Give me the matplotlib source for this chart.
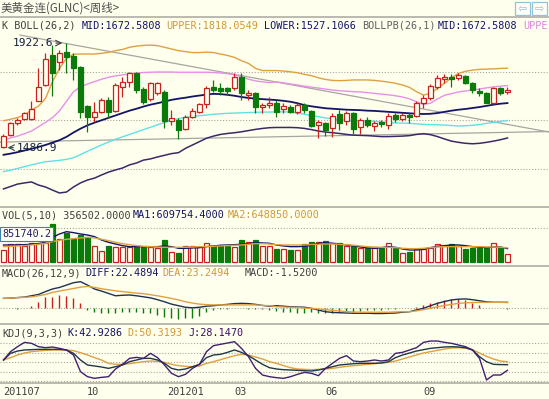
import matplotlib
matplotlib.use('Agg')
import matplotlib.pyplot as plt
from matplotlib.lines import Line2D
from matplotlib.patches import Rectangle
import numpy as np

# ---------------- data ----------------
opens = [1491,1540,1591,1605,1606,1683,1748,1873,1842,1887,1869,1824,1660,1613,1637,1685,1639,1741,1762,1796,
         1730,1688,1713,1720,1599,1602,1564,1613,1637,1669,1741,1737,1734,1734,1783,1706,1716,1658,1664,1674,
         1646,1657,1637,1664,1641,1581,1588,1567,1625,1599,1633,1571,1602,1577,1595,1581,1623,1605,1623,1619,
         1674,1692,1738,1771,1780,1776,1785,1758,1724,1716,1674,1734,1719]
highs = [1544,1595,1609,1637,1683,1817,1882,1914,1894,1922.6,1880,1827,1665,1678,1692,1699,1755,1783,1803,1803,
         1738,1762,1762,1727,1644,1609,1623,1650,1674,1744,1769,1755,1741,1797,1797,1727,1720,1671,1699,1685,
         1674,1664,1671,1671,1644,1602,1595,1630,1644,1641,1637,1609,1613,1599,1602,1630,1630,1630,1630,1683,
         1706,1751,1790,1794,1794,1799,1790,1762,1734,1720,1738,1741,1738]
lows = [1486.9,1535,1581,1600,1600,1680,1745,1702,1810,1796,1769,1609,1553,1595,1630,1609,1636,1699,1738,1713,
        1669,1683,1706,1567,1581,1521,1560,1609,1630,1651,1720,1706,1706,1727,1685,1685,1633,1630,1651,1616,
        1630,1633,1627,1630,1571,1526,1535,1530,1560,1581,1544,1544,1571,1558,1571,1563,1595,1599,1591,1613,
        1651,1685,1730,1755,1741,1769,1752,1716,1702,1671,1669,1706,1710]
closes = [1535,1588,1602,1630,1649,1741,1855,1799,1883,1863,1817,1637,1613,1637,1685,1637,1748,1762,1796,1727,
          1678,1755,1755,1599,1609,1560,1613,1640,1669,1734,1727,1724,1722,1783,1713,1716,1658,1664,1674,1637,
          1660,1637,1664,1644,1577,1595,1560,1619,1588,1633,1563,1602,1581,1588,1585,1619,1605,1623,1613,1671,
          1692,1744,1778,1782,1774,1790,1758,1727,1713,1674,1734,1716,1729]

boll_upper = [1599,1605,1612,1623,1644,1660,1692,1762,1817,1859,1876,1877,1877,1877,1880,1884,1891,1896,1905,1910,
              1913,1914,1912,1905,1898,1891,1887,1883,1883,1885,1883,1877,1871,1863,1849,1838,1817,1808,1808,1808,
              1806,1803,1799,1792,1787,1778,1771,1767,1766,1767,1769,1769,1769,1767,1764,1760,1755,1748,1738,1720,
              1706,1713,1734,1755,1778,1796,1805,1810,1813,1814,1815,1817,1818.05]
boll_mid = [1457,1462,1468,1475,1482,1490,1498,1508,1518,1532,1550,1566,1580,1591,1601,1611,1621,1631,1641,1649,
            1658,1666,1672,1679,1686,1691,1695,1700,1704,1708,1711,1710,1707,1703,1698,1694,1691,1689,1687,1685,
            1682,1678,1672,1664,1659,1655,1651,1649,1647,1645,1644,1643,1641,1640,1638,1636,1634,1632,1630,1628,
            1627,1628,1631,1636,1641,1645,1648,1652,1656,1661,1666,1670,1672.58]
boll_lower = [1315,1325,1335,1340,1344,1331,1323,1310,1298,1302,1323,1340,1352,1360,1373,1385,1394,1402,1415,1423,
              1435,1440,1448,1455,1462,1466,1484,1498,1512,1526,1535,1542,1546,1549,1553,1558,1563,1567,1570,1571,
              1571,1571,1570,1567,1562,1556,1552,1549,1546,1542,1539,1538,1537,1535,1533,1533,1534,1535,1537,1542,
              1545,1541,1533,1523,1514,1509,1505,1503,1505,1509,1514,1520,1527.11]
pb_upper = [1519,1527,1535,1545,1556,1574,1592,1612,1640,1680,1720,1740,1752,1762,1772,1780,1786,1790,1794,1797,
            1800,1801,1802,1802,1802,1801,1801,1801,1801,1801,1800,1798,1795,1790,1782,1772,1765,1761,1758,1761,
            1757,1752,1748,1743,1739,1735,1731,1727,1724,1722,1720,1719,1716,1713,1710,1707,1703,1698,1690,1678,
            1667,1672,1690,1705,1712,1719,1723,1727,1731,1736,1740,1743,1745.3]
pb_lower = [1387,1393,1400,1408,1415,1422,1428,1431,1434,1438,1445,1458,1472,1485,1498,1510,1522,1532,1542,1552,
            1562,1572,1582,1592,1600,1608,1613,1617,1620,1623,1626,1628,1630,1631,1632,1633,1634,1635,1635,1636,
            1636,1635,1630,1626,1621,1616,1611,1607,1604,1601,1599,1599,1598,1597,1594,1592,1590,1589,1588,1586,
            1584,1583,1582,1581,1579,1577,1578,1580,1583,1588,1592,1596,1599.8]

# trend lines drawn on the chart: (index, price) end points
trend_a_x = [2.36, 77.93]
trend_a_y = [1956, 1552]
trend_b_x = [-0.5, 77.93]
trend_b_y = [1510, 1554]

volumes = [549e3,803e3,803e3,727e3,847e3,874e3,847e3,1708e3,1026e3,1293e3,1026e3,1218e3,1142e3,727e3,517e3,727e3,
           696e3,696e3,696e3,727e3,696e3,696e3,624e3,995e3,473e3,428e3,727e3,727e3,669e3,874e3,727e3,772e3,727e3,
           696e3,995e3,892e3,995e3,727e3,727e3,580e3,593e3,549e3,549e3,803e3,919e3,919e3,950e3,874e3,847e3,727e3,
           727e3,651e3,624e3,624e3,624e3,847e3,624e3,401e3,473e3,580e3,580e3,651e3,803e3,740e3,803e3,727e3,580e3,
           624e3,624e3,624e3,874e3,651e3,356502]
vol_ma1 = [772e3,772e3,772e3,787e3,803e3,832e3,891e3,1114e3,1263e3,1366e3,1322e3,1263e3,1218e3,1144e3,995e3,891e3,
           817e3,743e3,698e3,698e3,698e3,698e3,698e3,728e3,698e3,624e3,624e3,639e3,654e3,698e3,728e3,758e3,772e3,
           787e3,803e3,832e3,877e3,862e3,847e3,772e3,728e3,698e3,698e3,713e3,758e3,847e3,877e3,847e3,817e3,772e3,
           728e3,683e3,639e3,624e3,654e3,698e3,669e3,594e3,550e3,550e3,580e3,654e3,713e3,743e3,772e3,772e3,743e3,
           698e3,669e3,654e3,683e3,683e3,609754.4]
vol_ma2 = [698e3,713e3,728e3,743e3,772e3,803e3,847e3,921e3,981e3,1025e3,1055e3,1085e3,1114e3,1085e3,1025e3,966e3,
           891e3,832e3,787e3,743e3,713e3,698e3,683e3,669e3,669e3,669e3,669e3,683e3,698e3,698e3,713e3,728e3,743e3,
           758e3,772e3,803e3,832e3,832e3,817e3,787e3,772e3,772e3,772e3,772e3,787e3,803e3,817e3,817e3,803e3,787e3,
           758e3,728e3,698e3,683e3,669e3,669e3,654e3,624e3,609e3,609e3,624e3,654e3,683e3,698e3,698e3,698e3,698e3,
           698e3,698e3,683e3,683e3,669e3,648850]

macd_diff = [38,39,41,43,48,53,64,74,80,89,98,102,89,74,66,57,48,50,51,48,
             44,40,33,25,16,10,4,2,4,8,10,13,15,18,19,18,15,11,8,10,
             8,6,5,4,0,-7,-13,-16,-17,-18,-19,-19,-19,-20,-20,-19,-18,-15,-13,-6,
             0,10,19,26,32,35,36,33,29,25,23,23,22.49]
macd_dea = [38,39,41,42,44,48,53,61,66,71,76,81,84,80,75,71,67,64,61,58,
            56,52,48,43,38,32,25,20,16,14,13,13,13,13,13,13,13,11,10,6,
            5,4,3,1,0,-3,-5,-8,-10,-13,-14,-15,-15,-15,-15,-15,-14,-13,-13,-10,
            -5,0,6,11,15,19,21,22,23,23,23,23,23.25]
macd_hist = [0,0,-1,3,8,26,42,45,51,48,38,19,-6,-15,-19,-19,-19,-13,-13,-15,
             -17,-19,-26,-32,-36,-41,-38,-36,-28,-13,-6,-3,-1,0,0,-1,-3,-4,-5,-10,
             -13,-15,-17,-17,-15,-17,-19,-17,-15,-13,-13,-10,-8,-6,-5,-4,-3,0,3,6,
             13,19,24,31,34,34,31,21,11,1,1,0,-1.52]

kdj_k = [55.3,72.8,78.9,81.6,82.5,83.3,83.3,83.3,83.3,81.6,72.8,55.3,42.1,39.5,36.9,33.3,37.7,42.1,50.9,55.3,
         59.6,59.6,55.3,46.5,33.3,29,31.6,37.7,43.9,61.5,68.4,70.2,75.4,81.6,75.4,66.7,55.3,43.9,35.1,31.6,
         29.8,29,28.1,27.2,26.3,29,33.3,37.7,42.1,43.9,45.6,46.5,46.5,46.5,47.4,50.9,61.5,68.4,73.7,78.9,
         82.5,85.9,87.7,89.5,90.3,89.5,87.7,81.6,64,50.9,43.9,43.2,42.93]
kdj_d = [55.3,61.5,68.4,73.7,77.2,79,80.7,81.6,81.6,81.6,79.8,74.5,68.4,61.5,55.3,46.5,43.9,43.9,45.6,48.3,
         50.9,52.6,51.8,49.1,43.9,40.4,38.6,37.7,39.5,46.5,50.9,56.1,61.5,66.7,70.2,68.4,63.2,57.9,50.9,46.5,
         40.4,35.1,31.6,30.7,29.8,30.7,31.6,33.3,36,38.6,40.4,42.1,43.9,45.6,47.4,49.1,52.6,57.9,63.2,68.4,
         73.7,77.2,80.7,84.2,86.8,87.7,86,82.5,73.7,64.9,57.9,52.6,50.32]
kdj_j = [55.3,77.2,90.3,101.7,99.1,90.3,87.7,89.4,85.9,81.6,68.4,24.6,11.4,7,9.6,11.4,31.6,43.9,59.6,62.2,
         59.6,72.8,61.5,42.1,20.2,11.4,17.6,33.3,43.9,77.2,93,96.5,100,103.5,85.9,64,33.3,15.8,11.4,8.8,
         7,11.4,17.6,22.8,20.2,14.1,33.3,46.5,59.6,66.7,52.6,50.9,52.6,55.3,52.6,55.3,72.8,75.4,81.6,87.7,
         101.7,105.2,105.2,101.7,99.1,94.7,90.3,81.6,59.6,2.7,15.8,15.8,28.15]

xtick_pos = [0.0, 12.8, 26.0, 33.8, 46.9, 60.9]
xtick_labels = ['201107', '10', '201201', '03', '06', '09']

# ---------------- figure ----------------
W, H = 549, 399
BG = '#FFFFEE'
RED = '#CC2020'
GRN = '#0A7A0A'
NAVY = '#141466'
ORANGE = '#E0A040'
PINK = '#E890E8'
CYAN = '#60E0E8'
PURPLE = '#3C2868'
GREY = '#A6A6A0'
MONO = 'DejaVu Sans Mono'

fig = plt.figure(figsize=(W / 100, H / 100), dpi=100)
fig.patch.set_facecolor(BG)
X0, X1 = -0.5, 77.93


def add_ax(top, bottom):
    ax = fig.add_axes([0, 1 - bottom / H, 1, (bottom - top) / H])
    ax.set_facecolor(BG)
    ax.set_xlim(X0, X1)
    for s in ax.spines.values():
        s.set_visible(False)
    ax.set_xticks([])
    ax.set_yticks([])
    return ax


def dotted(ax, v):
    ax.axhline(v, color='#A8A8A0', lw=0.8, ls=(0, (1, 1.6)), zorder=1)


n = len(closes)
idx = np.arange(n)
o = np.array(opens, float); c = np.array(closes, float)
up = c >= o
ecol = [RED if u else GRN for u in up]
fcol = [BG if u else GRN for u in up]

# ---- price panel ----
axp = add_ax(16.5, 207)
axp.set_ylim(1239.6, 2033.3)
for v in (1800, 1600, 1400):
    dotted(axp, v)
axp.plot(trend_a_x, trend_a_y, color=GREY, lw=0.9, zorder=1)
axp.plot(trend_b_x, trend_b_y, color=GREY, lw=0.9, zorder=1)
axp.plot(idx, boll_upper, color=ORANGE, lw=1.0, zorder=2)
axp.plot(idx, pb_upper, color=PINK, lw=1.0, zorder=2)
axp.plot(idx, boll_mid, color=NAVY, lw=1.3, zorder=2)
axp.plot(idx, pb_lower, color=CYAN, lw=1.0, zorder=2)
axp.plot(idx, boll_lower, color=PURPLE, lw=1.1, zorder=2)
axp.vlines(idx, lows, highs, colors=ecol, lw=0.9, zorder=3)
h = c - o
h = np.where(np.abs(h) < 1.5, np.where(h >= 0, 1.5, -1.5), h)
axp.bar(idx, h, bottom=o, width=0.72, color=fcol, edgecolor=ecol, lw=0.9, zorder=4)
imax = int(np.argmax(highs)); imin = int(np.argmin(lows))
axp.annotate('', xy=(imax - 0.2, highs[imax]), xytext=(imax - 1.9, highs[imax]),
             arrowprops=dict(arrowstyle='->', color='#404040', lw=0.8), zorder=5)
axp.text(imax - 1.95, highs[imax], f'{highs[imax]:.1f}', ha='right', va='center',
         family=MONO, fontsize=8, color='#102040', zorder=5)
axp.annotate('', xy=(imin + 0.2, lows[imin]), xytext=(imin + 1.8, lows[imin]),
             arrowprops=dict(arrowstyle='->', color='#404040', lw=0.8), zorder=5)
axp.text(imin + 1.85, lows[imin], f'{lows[imin]:.1f}', ha='left', va='center',
         family=MONO, fontsize=8, color='#102040', zorder=5)

# ---- volume panel ----
axv = add_ax(207, 265.7)
axv.set_ylim(-152e3, 2.466e6)
dotted(axv, 1.543e6)
axv.bar(idx, volumes, width=0.72, color=fcol, edgecolor=ecol, lw=0.9, zorder=3)
axv.plot(idx, vol_ma1, color=NAVY, lw=1.0, zorder=4)
axv.plot(idx, vol_ma2, color=ORANGE, lw=1.0, zorder=4)

# ---- MACD panel ----
axm = add_ax(265.7, 323.5)
axm.set_ylim(-58.2, 163.2)
dotted(axm, 0)
hist = np.array(macd_hist)
axm.vlines(idx, 0, hist, colors=[RED if v >= 0 else GRN for v in hist], lw=1.0, zorder=2)
axm.plot(idx, macd_diff, color='#203050', lw=1.0, zorder=3)
axm.plot(idx, macd_dea, color=ORANGE, lw=1.0, zorder=3)

# ---- KDJ panel ----
axk = add_ax(323.5, 382.5)
axk.set_ylim(-3.9, 151.3)
for v in (0, 25, 50, 75, 100):
    dotted(axk, v)
axk.plot(idx, kdj_d, color=ORANGE, lw=1.0, zorder=2)
axk.plot(idx, kdj_k, color='#203848', lw=1.0, zorder=3)
axk.plot(idx, kdj_j, color='#402070', lw=1.0, zorder=3)

# ---- x labels ----
axx = add_ax(382.5, 399)
axx.set_ylim(0, 1)
for p, lab in zip(xtick_pos, xtick_labels):
    ha = 'left' if p == xtick_pos[0] else 'center'
    axx.text(p, 0.45, lab, ha=ha, va='center', family=MONO, fontsize=7.4, color='#404040')

# ---- separators ----
for y in (16.5, 207, 265.7, 323.5, 382.5):
    fig.add_artist(Line2D([0, 1], [1 - y / H, 1 - y / H], color='#B4B4AC', lw=1.3))


def ftext(x, y, s, color, **kw):
    fig.text(x / W, 1 - y / H, s, color=color, va='center', ha='left', family=MONO,
             fontsize=7.3, **kw)


# title
fig.text(1 / W, 1 - 8 / H, '美黄金连(GLNC)<周线>', family=['Noto Sans CJK SC', 'DejaVu Sans'],
         fontsize=8.3, color='#505050', va='center', ha='left')
# arrow buttons
for bx, glyph in ((515, '⇦'), (532, '⇨')):
    fig.add_artist(Rectangle((bx / W, 1 - 15 / H), 15 / W, 13 / H, transform=fig.transFigure,
                             facecolor='#FFFFF8', edgecolor='#8CC4DC', lw=0.9))
    fig.text((bx + 7.5) / W, 1 - 8.5 / H, glyph, family='DejaVu Sans', fontsize=8,
             color='#8CC4DC', ha='center', va='center')

# headers
ftext(2, 26, 'K BOLL(26,2)', '#404040')
ftext(82, 26, 'MID:1672.5808', NAVY)
ftext(166, 26, 'UPPER:1818.0549', '#D09838')
ftext(264, 26, 'LOWER:1527.1066', NAVY)
ftext(362, 26, 'BOLLPB(26,1)', '#606060')
ftext(438, 26, 'MID:1672.5808', NAVY)
ftext(523, 26, 'UPPE', '#E080E0')

ftext(2, 215, 'VOL(5,10) 356502.0000', '#404040')
ftext(133, 215, 'MA1:609754.4000', NAVY)
ftext(228, 215, 'MA2:648850.0000', '#D09838')
fig.text(2 / W, 1 - 234 / H, '851740.2', family=MONO, fontsize=7.3, color='#202060', va='center',
         ha='left', bbox=dict(boxstyle='square,pad=0.15', fc='#FFFFF8', ec='#4080B0', lw=0.8))

ftext(2, 273, 'MACD(26,12,9)', '#404040')
ftext(85, 273, 'DIFF:22.4894', NAVY)
ftext(162, 273, 'DEA:23.2494', '#D09838')
ftext(245, 273, 'MACD:-1.5200', '#404040')

ftext(2, 333, 'KDJ(9,3,3)', '#404040')
ftext(67, 333, 'K:42.9286', NAVY)
ftext(127, 333, 'D:50.3193', '#D09838')
ftext(188, 333, 'J:28.1470', '#3A1060')

fig.savefig('out.png', dpi=100, facecolor=BG)
